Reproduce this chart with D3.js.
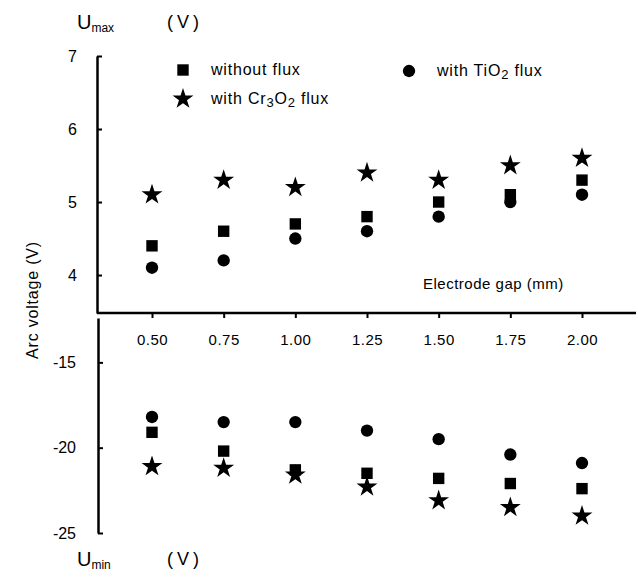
<!DOCTYPE html>
<html>
<head>
<meta charset="utf-8">
<script src="https://cdn.jsdelivr.net/npm/d3@7"></script>
<style>
  body { margin: 0; background: #fff; }
  svg text { font-family: "Liberation Sans", Arial, sans-serif; fill: #000; }
</style>
</head>
<body>
<svg id="chart" width="638" height="577"></svg>
<script>
// electrode gap (mm)
const gaps = [0.50, 0.75, 1.00, 1.25, 1.50, 1.75, 2.00];
const gapLabels = ["0.50", "0.75", "1.00", "1.25", "1.50", "1.75", "2.00"];

// Umax (V)
const maxWithout = [4.4, 4.6, 4.7, 4.8, 5.0, 5.1, 5.3];
const maxTiO2    = [4.1, 4.2, 4.5, 4.6, 4.8, 5.0, 5.1];
const maxCr3O2   = [5.1, 5.3, 5.2, 5.4, 5.3, 5.5, 5.6];

// Umin (V)
const minWithout = [-19.1, -20.2, -21.3, -21.5, -21.8, -22.1, -22.4];
const minTiO2    = [-18.2, -18.5, -18.5, -19.0, -19.5, -20.4, -20.9];
const minCr3O2   = [-21.1, -21.2, -21.6, -22.3, -23.1, -23.5, -24.0];

const upperTicks = [4, 5, 6, 7];
const lowerTicks = [-15, -20, -25];

const svg = d3.select("#chart");

const x = d3.scaleLinear().domain([0.5, 2.0]).range([152, 582]);
const yUp = d3.scaleLinear().domain([3.48, 7]).range([313, 56]);
const yLow = d3.scaleLinear().domain([-25, -12.4]).range([533, 318]);

// upper y axis
const gUp = svg.append("g").attr("transform", "translate(97,0)")
    .call(d3.axisLeft(yUp).tickValues(upperTicks).tickSizeInner(-5).tickSizeOuter(0).tickPadding(20).tickFormat(d3.format("d")));
// lower y axis
const gLow = svg.append("g").attr("transform", "translate(98,0)")
    .call(d3.axisLeft(yLow).tickValues(lowerTicks).tickSizeInner(-5).tickSizeOuter(0).tickPadding(22).tickFormat(d => d3.format("d")(d).replace("−", "-")));

[gUp, gLow].forEach(g => {
  g.select(".domain").attr("stroke-width", 2.5);
  g.selectAll(".tick line").attr("stroke-width", 2);
  g.selectAll("text").style("font-size", "16px").attr("fill", "#000");
});

// x axis
const gx = svg.append("g").attr("transform", "translate(0,313)")
    .call(d3.axisBottom(x).tickValues(gaps).tickSizeInner(5).tickSizeOuter(0).tickPadding(16)
      .tickFormat((d, i) => gapLabels[i]));
gx.select(".domain").remove();
gx.append("line").attr("x1", 97).attr("x2", 636).attr("stroke", "#000").attr("stroke-width", 2.5);
gx.selectAll(".tick line").attr("stroke-width", 2);
gx.selectAll("text").style("font-size", "15px").attr("fill", "#000").attr("letter-spacing", 0.5);

// markers
const square = d3.symbol().type(d3.symbolSquare).size(130);
const circle = d3.symbol().type(d3.symbolCircle).size(120);
const star = d3.symbol().type(d3.symbolStar).size(135);

function plot(values, yScale, sym) {
  svg.append("g").selectAll("path")
    .data(values)
    .join("path")
    .attr("d", sym)
    .attr("fill", "#000")
    .attr("transform", (d, i) => `translate(${x(gaps[i])},${yScale(d)})`);
}

plot(maxWithout, yUp, square);
plot(maxTiO2, yUp, circle);
plot(maxCr3O2, yUp, star);
plot(minWithout, yLow, square);
plot(minTiO2, yLow, circle);
plot(minCr3O2, yLow, star);

// legend
const legend = [
  { sym: square, x: 183, y: 70, label: ["without flux"] },
  { sym: star, x: 183, y: 99, label: ["with Cr", "3", "O", "2", " flux"] },
  { sym: circle, x: 409, y: 71, label: ["with TiO", "2", " flux"] }
];
legend.forEach(l => {
  svg.append("path").attr("d", l.sym).attr("fill", "#000")
    .attr("transform", `translate(${l.x},${l.y})`);
  const t = svg.append("text").attr("x", l.x + 28).attr("y", l.y + 5)
    .style("font-size", "16px").attr("letter-spacing", 0.8);
  l.label.forEach((s, i) => {
    const sub = l.label.length > 1 && (s === "2" || s === "3");
    t.append("tspan").text(s)
      .attr("dy", sub ? 3 : (i > 0 && (l.label[i - 1] === "2" || l.label[i - 1] === "3") ? -3 : 0))
      .style("font-size", sub ? "13px" : "16px");
  });
});

// titles
svg.append("text").attr("transform", "translate(38,300) rotate(-90)")
  .attr("text-anchor", "middle").style("font-size", "16px").attr("letter-spacing", 0.8)
  .text("Arc voltage (V)");

svg.append("text").attr("x", 423).attr("y", 289)
  .style("font-size", "15px").attr("letter-spacing", 0.5)
  .text("Electrode gap (mm)");

function unitLabel(yPos, sub) {
  const t = svg.append("text").attr("x", 77).attr("y", yPos).style("font-size", "20px");
  t.append("tspan").text("U");
  t.append("tspan").text(sub).style("font-size", "12px").attr("dy", 3);
  svg.append("text").attr("x", 167).attr("y", yPos - 1).style("font-size", "18px")
    .attr("letter-spacing", 4).text("(V)");
}
unitLabel(29, "max");
unitLabel(566, "min");
</script>
</body>
</html>
